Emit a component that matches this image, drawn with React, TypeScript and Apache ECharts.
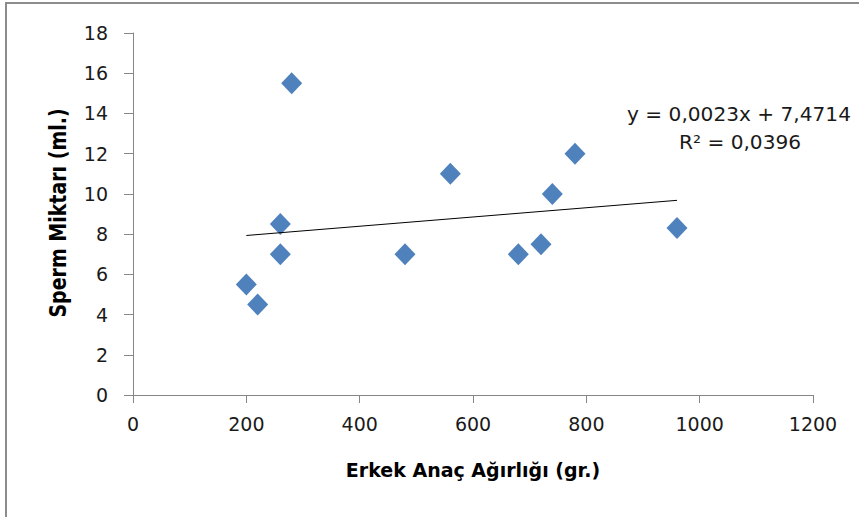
import React, { useEffect, useRef } from "react";
import * as echarts from "echarts";

const xValues = [200, 220, 260, 260, 280, 480, 560, 680, 720, 740, 780, 960];
const yValues = [5.5, 4.5, 8.5, 7, 15.5, 7, 11, 7, 7.5, 10, 12, 8.3];
const trendSlope = 0.0023;
const trendIntercept = 7.4714;
const trendRange = [200, 960];
const equationText = "y = 0,0023x + 7,4714";
const r2Text = "R² = 0,0396";
const xTitle = "Erkek Anaç Ağırlığı (gr.)";
const yTitle = "Sperm Miktarı (ml.)";

const FONT = "DejaVu Sans";

export default function App() {
  const ref = useRef<HTMLDivElement>(null);
  useEffect(() => {
    if (!ref.current) return;
    const chart = echarts.init(ref.current, undefined, { renderer: "svg" });
    const points = xValues.map((x, i) => [x, yValues[i]]);
    const trend = trendRange.map((x) => [x, trendSlope * x + trendIntercept]);
    chart.setOption({
      animation: false,
      backgroundColor: "#ffffff",
      grid: { left: 133, right: 46, top: 33, bottom: 122, containLabel: false },
      xAxis: {
        type: "value",
        min: 0,
        max: 1200,
        interval: 200,
        splitLine: { show: false },
        axisLine: { show: true, onZero: false, lineStyle: { color: "#868686", width: 1 } },
        axisTick: { show: true, inside: false, length: 8, lineStyle: { color: "#868686" } },
        axisLabel: {
          color: "#1a1a1a",
          fontFamily: FONT,
          fontSize: 19,
          margin: 19,
          formatter: (v: number) => String(v),
        },
      },
      yAxis: {
        type: "value",
        min: 0,
        max: 18,
        interval: 2,
        splitLine: { show: false },
        axisLine: { show: true, onZero: false, lineStyle: { color: "#868686", width: 1 } },
        axisTick: { show: true, inside: false, length: 9, lineStyle: { color: "#868686" } },
        axisLabel: {
          color: "#1a1a1a",
          fontFamily: FONT,
          fontSize: 19,
          margin: 25,
          formatter: (v: number) => String(v),
        },
      },
      series: [
        {
          type: "line",
          data: trend,
          symbol: "none",
          lineStyle: { color: "#000000", width: 1 },
          z: 3,
        },
        {
          type: "scatter",
          data: points,
          symbol: "diamond",
          symbolSize: [21, 22],
          itemStyle: { color: "#4F81BD", opacity: 1 },
          z: 2,
        },
      ],
      graphic: [
        {
          type: "rect",
          shape: { x: 6, y: 3, width: 1000, height: 1000 },
          style: { fill: "none", stroke: "#8c8c8c", lineWidth: 2 },
          silent: true,
        },
        {
          type: "text",
          x: 473,
          y: 470,
          style: {
            text: xTitle,
            fontFamily: FONT,
            fontWeight: "bold",
            fontSize: 19,
            fill: "#000",
            textAlign: "center",
            textVerticalAlign: "middle",
          },
        },
        {
          type: "text",
          x: 58,
          y: 213,
          rotation: Math.PI / 2,
          scaleY: 1.2,
          style: {
            text: yTitle,
            fontFamily: FONT,
            fontWeight: "bold",
            fontSize: 19,
            fill: "#000",
            textAlign: "center",
            textVerticalAlign: "middle",
          },
        },
        {
          type: "text",
          x: 739,
          y: 115,
          scaleX: 1.06,
          style: {
            text: equationText,
            fontFamily: FONT,
            fontSize: 19,
            fill: "#1a1a1a",
            textAlign: "center",
            textVerticalAlign: "middle",
          },
        },
        {
          type: "text",
          x: 740,
          y: 143,
          scaleX: 1.06,
          style: {
            text: r2Text,
            fontFamily: FONT,
            fontSize: 19,
            fill: "#1a1a1a",
            textAlign: "center",
            textVerticalAlign: "middle",
          },
        },
      ],
    });
    return () => chart.dispose();
  }, []);
  return (
    <div
      ref={ref}
      style={{ position: "absolute", left: 0, top: 0, width: 859, height: 517 }}
    />
  );
}
